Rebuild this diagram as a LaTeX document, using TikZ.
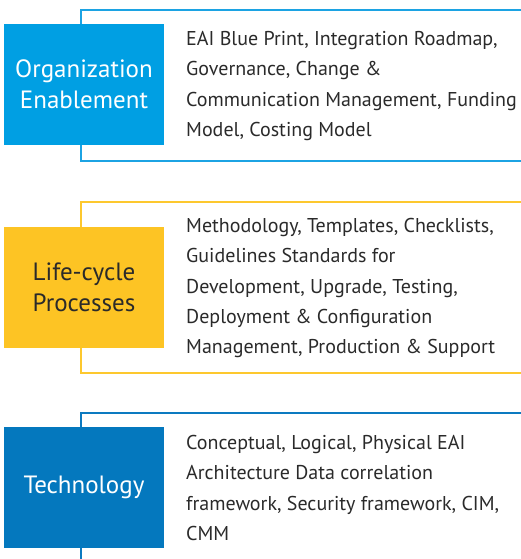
\documentclass[tikz,border=0pt]{standalone}
\usepackage{fontspec}
\setmainfont{PT Sans}
\usetikzlibrary{positioning}
\definecolor{colorOrg}{HTML}{009FE3}
\definecolor{colorOrgLine}{HTML}{1CA3E3}
\definecolor{colorLife}{HTML}{FDC424}
\definecolor{colorLifeLine}{HTML}{FDC82E}
\definecolor{colorTech}{HTML}{0478BE}
\definecolor{colorTechLine}{HTML}{0C7AC0}
\definecolor{colorTxt}{HTML}{2A2A2A}
\tikzset{
   area/.style={rectangle,minimum width=160pt,minimum height=121pt,inner sep=0pt,align=center,
      font=\fontsize{25}{31}\selectfont},
   items/.style={anchor=west,inner sep=0pt,align=left,text=colorTxt,
      font=\fontsize{20}{30.3}\selectfont},
   frame/.style={line width=1.6pt},
}
\begin{document}
\begin{tikzpicture}[x=1pt,y=-1pt]
      \useasboundingbox (0,0) rectangle (521,559);
      % frames
      \draw[frame,colorOrgLine] (530,10) -- (81,10) -- (81,161) -- (530,161);
      \draw[frame,colorLifeLine] (530,202) -- (81,202) -- (81,373) -- (530,373);
      \draw[frame,colorTechLine] (530,413) -- (81,413) -- (81,570);
      % boxes
      \node[area,fill=colorOrg,text=white] (org) at (84,84.5) {Organization\\Enablement};
      \node[area,fill=colorLife,text=colorTxt] (life) at (84,287) {Life-cycle\\Processes};
      \node[area,fill=colorTech,text=white] (tech) at (84,487) {Technology};
      % texts
      \node[items] (orgtxt) at (186,86) {EAI Blue Print, Integration Roadmap,\\Governance, Change \&\\Communication Management, Funding\\Model, Costing Model};
      \node[items] (lifetxt) at (186,288) {Methodology, Templates, Checklists,\\Guidelines Standards for\\Development, Upgrade, Testing,\\Deployment \& Configuration\\Management, Production \& Support};
      \node[items] (techtxt) at (186,488) {Conceptual, Logical, Physical EAI\\Architecture Data correlation\\framework, Security framework, CIM,\\CMM};
    \end{tikzpicture}
\end{document}
